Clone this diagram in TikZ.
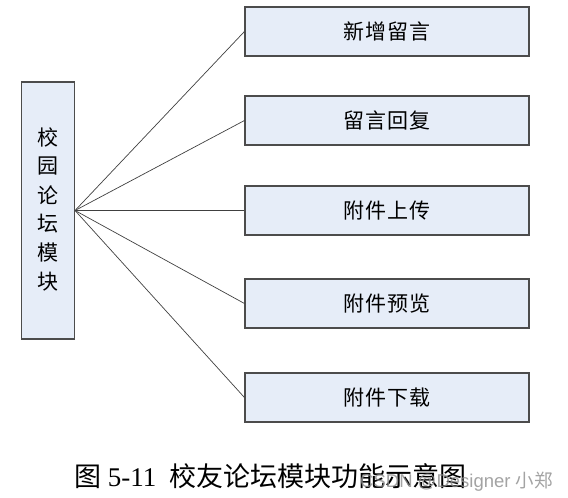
\documentclass[tikz,border=0pt]{standalone}
\usepackage{fontspec}
\setmainfont{Liberation Serif}
\newfontfamily\cjk[LetterSpace=6]{Noto Sans CJK SC}
\newfontfamily\cjkcap{Noto Sans CJK SC}
\newfontfamily\wmfont{Liberation Sans}
\begin{document}
\begin{tikzpicture}[x=1pt,y=-1pt,
  box/.style={draw=black!70,line width=1.1pt,fill={rgb,255:red,230;green,237;blue,248},inner sep=0pt},
  link/.style={draw=black!75,line width=0.7pt}]
\useasboundingbox (0,0) rectangle (568,498);
\node[box,minimum width=53pt,minimum height=257pt] (root) at (48,210.5) {};
\foreach \c [count=\i] in {校,园,论,坛,模,块}
  \node[font=\cjk\fontsize{21}{21}\selectfont,inner sep=0pt] (r\i) at (48,{108+\i*29}) {\c};
\node[box,minimum width=284pt,minimum height=49pt,font=\cjk\fontsize{21}{21}\selectfont] (a) at (387,31.5) {新增留言};
\node[box,minimum width=284pt,minimum height=49pt,font=\cjk\fontsize{21}{21}\selectfont] (b) at (387,120.5) {留言回复};
\node[box,minimum width=284pt,minimum height=49pt,font=\cjk\fontsize{21}{21}\selectfont] (c) at (387,210.5) {附件上传};
\node[box,minimum width=284pt,minimum height=49pt,font=\cjk\fontsize{21}{21}\selectfont] (d) at (387,303.5) {附件预览};
\node[box,minimum width=284pt,minimum height=49pt,font=\cjk\fontsize{21}{21}\selectfont] (e) at (387,397.5) {附件下载};
\foreach \t in {a,b,c,d,e}
  \draw[link] (root.east) -- (\t.west);
\node[anchor=base west,inner sep=0pt,font=\fontsize{27}{27}\selectfont] (cap) at (74,486)
  {{\cjkcap 图} 5-11\hspace{0.5em}{\cjkcap 校友论坛模块功能示意图}};
\node[anchor=base west,inner sep=0pt,text=black!45,opacity=0.8,font=\wmfont\fontsize{18.5}{18.5}\selectfont] (wm) at (360,487)
  {CSDN @Designer {\cjkcap 小郑}};
\end{tikzpicture}
\end{document}
